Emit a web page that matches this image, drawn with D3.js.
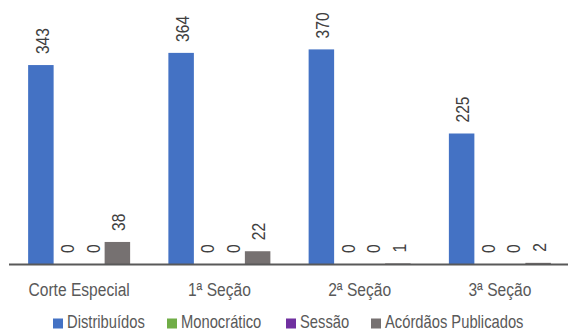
<!DOCTYPE html>
<html>
<head>
<meta charset="utf-8">
<script src="https://cdn.jsdelivr.net/npm/d3@7"></script>
<style>
  body { margin: 0; background: #fff; }
  text { font-family: "Liberation Sans", Arial, sans-serif; }
</style>
</head>
<body>
<div id="chart"></div>
<script>
// Datos
const categories = ["Corte Especial", "1ª Seção", "2ª Seção", "3ª Seção"];
const series = ["Distribuídos", "Monocrático", "Sessão", "Acórdãos Publicados"];
const colors = ["#4472C4", "#70AD47", "#7030A0", "#767171"];
const distribuidos = [343, 364, 370, 225];
const monocratico = [0, 0, 0, 0];
const sessao = [0, 0, 0, 0];
const acordaos = [38, 22, 1, 2];
const values = [distribuidos, monocratico, sessao, acordaos];

const width = 568, height = 331;
const textColor = "#595959";
const narrow = "scale(0.82,1)"; // imita una fuente condensada (Arial Narrow)

const svg = d3.select("#chart")
    .append("svg")
    .attr("width", width)
    .attr("height", height);

// Escalas
const x0 = d3.scaleBand()
    .domain(categories)
    .range([9, 570])
    .padding(0);

const x1 = d3.scaleBand()
    .domain(series)
    .range([0, x0.bandwidth()])
    .paddingInner(0)
    .paddingOuter(0.75);

const y = d3.scaleLinear()
    .domain([0, 400])
    .range([264, 32]);

// Barras
const rows = [];
categories.forEach((c, i) => {
    series.forEach((s, j) => {
        rows.push({ cat: c, serie: s, value: values[j][i], color: colors[j] });
    });
});

const groups = svg.selectAll(".grp")
    .data(rows)
    .enter()
    .append("g");

groups.append("rect")
    .attr("x", d => x0(d.cat) + x1(d.serie))
    .attr("y", d => y(d.value))
    .attr("width", x1.bandwidth())
    .attr("height", d => y(0) - y(d.value))
    .style("fill", d => d.color);

// Etiquetas de valores
groups.append("text")
    .attr("transform", d => `translate(${x0(d.cat) + x1(d.serie) + x1.bandwidth() / 2 + 1},${y(d.value) - 11}) rotate(-90) ${narrow}`)
    .attr("text-anchor", "start")
    .attr("dy", "0.35em")
    .attr("font-size", "19px")
    .style("fill", "#404040")
    .text(d => d.value);

// Eje X
svg.append("line")
    .attr("x1", 9)
    .attr("x2", 568)
    .attr("y1", y(0) + 0.5)
    .attr("y2", y(0) + 0.5)
    .style("stroke", "#595959")
    .style("stroke-width", 2);

svg.selectAll(".cat")
    .data(categories)
    .enter()
    .append("text")
    .attr("transform", d => `translate(${x0(d) + x0.bandwidth() / 2},296) ${narrow}`)
    .attr("text-anchor", "middle")
    .attr("font-size", "19px")
    .style("fill", textColor)
    .text(d => d);

// Leyenda
const legendX = [53, 167, 286, 371];
const legend = svg.selectAll(".leg")
    .data(series)
    .enter()
    .append("g")
    .attr("transform", (d, i) => `translate(${legendX[i]},318.5)`);

legend.append("rect")
    .attr("width", 10)
    .attr("height", 10)
    .style("fill", (d, i) => colors[i]);

legend.append("text")
    .attr("transform", `translate(14,9.5) ${narrow}`)
    .attr("font-size", "18px")
    .style("fill", textColor)
    .text(d => d);
</script>
</body>
</html>
